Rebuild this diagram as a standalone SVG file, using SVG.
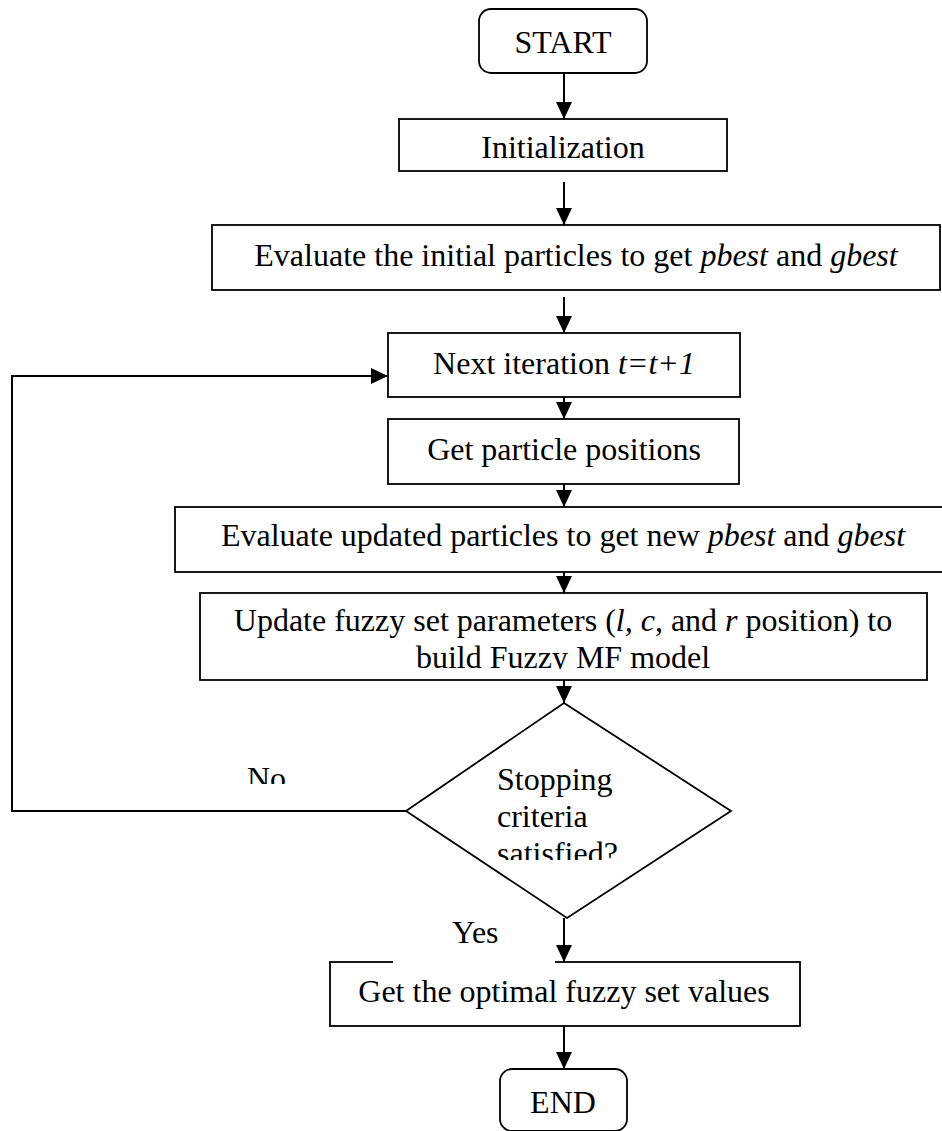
<svg xmlns="http://www.w3.org/2000/svg" width="942" height="1131" viewBox="0 0 942 1131">
<defs>
<marker id="arr" viewBox="0 0 17 16" refX="17" refY="8" markerWidth="17" markerHeight="16" markerUnits="userSpaceOnUse" orient="auto"><path d="M0,0 L17,8 L0,16 z" fill="#000"/></marker>
<clipPath id="clipUpd"><rect x="200" y="593" width="727" height="76"/></clipPath>
<clipPath id="clipDec"><rect x="480" y="760" width="170" height="100"/></clipPath>
<clipPath id="clipNo"><rect x="200" y="740" width="200" height="44"/></clipPath>
</defs>
<style>
.b{fill:#fff;stroke:#000;stroke-width:1.8}
.t{font-family:"Liberation Serif","Times New Roman",serif;font-size:32px;fill:#000}
.c{text-anchor:middle}
.a{fill:none;stroke:#000;stroke-width:2;marker-end:url(#arr)}
</style>
<rect width="942" height="1131" fill="#fff"/>
<g id="connectors">
<path class="a" d="M564,73 V119"/>
<path class="a" d="M564,182 V225"/>
<path class="a" d="M564,297 V333"/>
<path class="a" d="M564,397 V419"/>
<path class="a" d="M564,484 V507"/>
<path class="a" d="M564,572 V593"/>
<path class="a" d="M564,680 V703"/>
<path class="a" d="M564,918 V962"/>
<path class="a" d="M564,1026 V1069"/>
<path class="a" d="M406,811 H12 V376 H388"/>
</g>
<g id="start">
<rect class="b" x="479" y="9" width="168" height="64" rx="12"/>
<text class="t c" x="563" y="53">START</text>
</g>
<g id="init">
<rect class="b" x="399" y="119" width="328" height="52"/>
<text class="t c" x="563" y="158">Initialization</text>
</g>
<g id="evalInit">
<rect class="b" x="212" y="225" width="728" height="65"/>
<text class="t c" x="576" y="266">Evaluate the initial particles to get <tspan font-style="italic">pbest</tspan> and <tspan font-style="italic">gbest</tspan></text>
</g>
<g id="next">
<rect class="b" x="388" y="333" width="352" height="64"/>
<text class="t c" x="564" y="374">Next iteration <tspan font-style="italic">t=t+1</tspan></text>
</g>
<g id="getPos">
<rect class="b" x="388" y="419" width="351" height="65"/>
<text class="t c" x="564" y="460">Get particle positions</text>
</g>
<g id="evalUpd">
<rect class="b" x="175" y="507" width="777" height="65"/>
<text class="t c" x="563" y="546">Evaluate updated particles to get new <tspan font-style="italic">pbest</tspan> and <tspan font-style="italic">gbest</tspan></text>
</g>
<g id="update">
<rect class="b" x="200" y="593" width="727" height="87"/>
<g clip-path="url(#clipUpd)">
<text class="t c" x="563" y="631">Update fuzzy set parameters (<tspan font-style="italic">l,</tspan> <tspan font-style="italic">c</tspan>, and <tspan font-style="italic">r</tspan> position) to</text>
<text class="t c" x="563" y="668">build Fuzzy MF model</text>
</g>
</g>
<g id="decision">
<polygon class="b" points="564,703 731,811 567,918 406,811"/>
<g clip-path="url(#clipDec)">
<text class="t" x="497" y="790">Stopping</text>
<text class="t" x="497" y="827">criteria</text>
<text class="t" x="497" y="864">satisfied?</text>
</g>
</g>
<g id="optimal">
<rect class="b" x="330" y="962" width="470" height="64"/>
<text class="t c" x="564" y="1002">Get the optimal fuzzy set values</text>
</g>
<g id="end">
<rect class="b" x="500" y="1069" width="127" height="62" rx="12"/>
<text class="t c" x="563" y="1113">END</text>
</g>
<g id="labels">
<text class="t" x="247" y="789" clip-path="url(#clipNo)">No</text>
<rect x="393" y="912" width="162" height="52" fill="#fff"/>
<text class="t" x="452" y="943">Yes</text>
</g>
</svg>
